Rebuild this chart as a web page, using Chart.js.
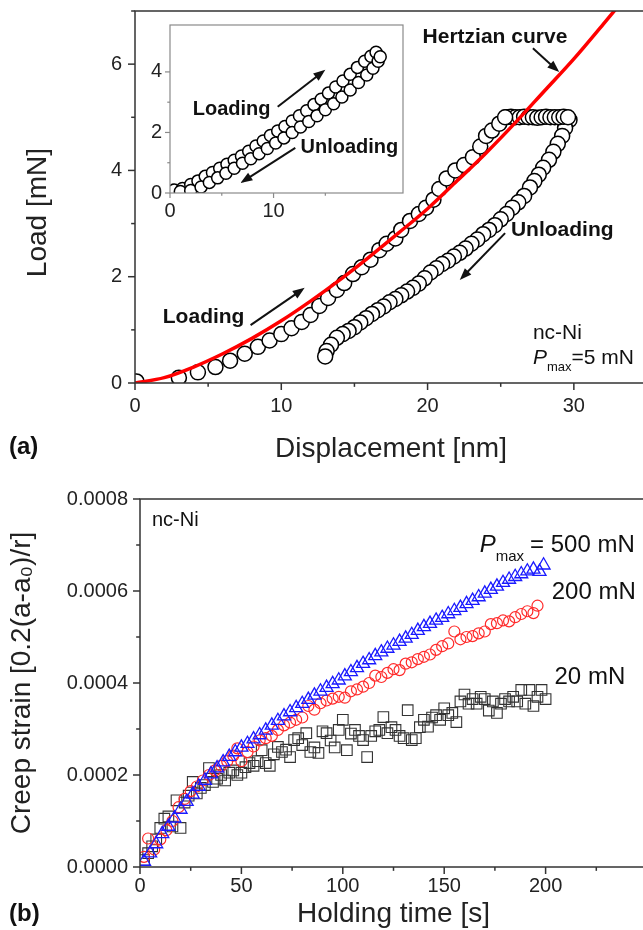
<!DOCTYPE html>
<html>
<head>
<meta charset="utf-8">
<script src="https://cdn.jsdelivr.net/npm/chart.js@4.4.1/dist/chart.umd.min.js"></script>
<style>
  html, body { margin: 0; padding: 0; background: #fff; overflow: hidden; }
  #page { position: relative; width: 643px; height: 930px; overflow: hidden; font-family: 'Liberation Sans', Arial, sans-serif; }
  canvas { position: absolute; }
  #cA { left: 0; top: 0; }
  #cIn { left: 140px; top: 15px; }
  #cB { left: 0; top: 470px; }
  .lab { position: absolute; font-weight: bold; font-size: 24px; line-height: 28px; color: #111; }
</style>
</head>
<body>
<div id="page">
  <canvas id="cA" width="652" height="470"></canvas>
  <canvas id="cIn" width="275" height="210"></canvas>
  <canvas id="cB" width="652" height="460"></canvas>
  <div class="lab" style="left:9px; top:432px;">(a)</div>
  <div class="lab" style="left:9px; top:899px;">(b)</div>
</div>
<script>
const FONT = "'Liberation Sans', Arial, sans-serif";

// ---- panel (a): load vs displacement, Pmax = 5 mN ----
const hertzDisp = [0, 2, 4, 6, 8, 10, 12, 14, 16, 18, 20, 22, 24, 26, 28, 30, 32, 33];
const hertzLoad = [0, 0.1, 0.3, 0.55, 0.84, 1.17, 1.54, 1.94, 2.37, 2.82, 3.28, 3.8, 4.33, 4.9, 5.5, 6.1, 6.75, 7.08];

const loadDisp = [0.1, 3.0, 4.3, 5.5, 6.5, 7.5, 8.4, 9.2, 10.0, 10.7, 11.4, 12.0, 12.6, 13.2, 13.8, 14.3, 14.9, 15.5,
  16.1, 16.7, 17.2, 17.8, 18.2, 18.8, 19.4, 19.9, 20.4, 20.8, 21.3, 21.9, 22.5, 23.1, 23.6, 24.0, 24.4, 24.9, 25.3];
const loadForce = [0.03, 0.1, 0.2, 0.3, 0.42, 0.55, 0.68, 0.8, 0.92, 1.03, 1.15, 1.28, 1.45, 1.6, 1.75, 1.88, 2.05, 2.18,
  2.32, 2.5, 2.62, 2.72, 2.88, 3.05, 3.18, 3.3, 3.45, 3.65, 3.85, 4.0, 4.1, 4.25, 4.45, 4.65, 4.75, 4.88, 5.0];

const holdDisp = [25.4, 25.7, 26.0, 26.3, 26.6, 26.9, 27.2, 27.5, 27.8, 28.1, 28.4, 28.7, 29.0, 29.3, 29.6];
const holdForce = [5.0, 5.01, 5.0, 5.0, 5.01, 5.0, 5.0, 4.99, 5.0, 5.01, 5.0, 5.0, 5.0, 5.01, 5.0];

const unloadDisp = [29.7, 29.4, 29.2, 28.9, 28.6, 28.3, 27.9, 27.6, 27.3, 27.0, 26.6, 26.2, 25.8, 25.4, 25.0, 24.6,
  24.2, 23.8, 23.4, 23.0, 22.6, 22.2, 21.8, 21.4, 21.0, 20.6, 20.2, 19.8, 19.4, 19.0, 18.6, 18.2, 17.8, 17.4,
  17.0, 16.6, 16.2, 15.8, 15.4, 15.0, 14.6, 14.2, 13.8, 13.4, 13.1, 13.0];
const unloadForce = [4.95, 4.8, 4.65, 4.5, 4.35, 4.2, 4.05, 3.92, 3.8, 3.68, 3.52, 3.4, 3.3, 3.18, 3.08, 2.97,
  2.88, 2.8, 2.7, 2.62, 2.53, 2.45, 2.38, 2.3, 2.24, 2.16, 2.08, 1.97, 1.87, 1.79, 1.72, 1.65, 1.58, 1.52,
  1.44, 1.37, 1.3, 1.22, 1.14, 1.05, 0.98, 0.92, 0.85, 0.72, 0.6, 0.5];

// inset
const insetLoadDisp = [0.4, 1.2, 2.0, 2.7, 3.4, 4.1, 4.8, 5.5, 6.2, 6.9, 7.6, 8.3, 9.0, 9.7, 10.4, 11.1, 11.8, 12.5,
  13.2, 13.9, 14.6, 15.3, 16.0, 16.7, 17.4, 18.1, 18.8, 19.4, 19.9];
const insetLoadForce = [0.1, 0.15, 0.28, 0.4, 0.55, 0.68, 0.82, 0.95, 1.08, 1.22, 1.38, 1.55, 1.72, 1.9, 2.05, 2.2, 2.38, 2.55,
  2.72, 2.92, 3.1, 3.3, 3.5, 3.7, 3.92, 4.15, 4.35, 4.52, 4.65];
const insetUnloadDisp = [1.0, 2.0, 3.0, 3.8, 4.6, 5.4, 6.2, 7.0, 7.8, 8.6, 9.4, 10.2, 11.0, 11.8, 12.6, 13.4, 14.2,
  15.0, 15.8, 16.6, 17.4, 18.2, 19.0, 19.6, 20.1, 20.3];
const insetUnloadForce = [0.05, 0.08, 0.2, 0.35, 0.5, 0.65, 0.82, 0.98, 1.13, 1.3, 1.47, 1.65, 1.82, 2.0, 2.18, 2.36, 2.55,
  2.75, 2.95, 3.17, 3.4, 3.65, 3.9, 4.12, 4.35, 4.5];

// ---- panel (b): creep strain vs holding time ----
const time500 = [2, 5, 8, 11, 14, 17, 20, 23, 26, 29, 32, 35, 38, 41, 44, 47, 50, 53, 56, 59, 62, 65, 68, 71, 74, 77,
  80, 83, 86, 89, 92, 95, 98, 101, 104, 107, 110, 113, 116, 119, 122, 125, 128, 131, 134, 137, 140, 143, 146, 149,
  152, 155, 158, 161, 164, 167, 170, 173, 176, 179, 182, 185, 188, 191, 194, 197, 199];
const creep500 = [0.000012, 0.00003, 0.00005, 0.000072, 0.000088, 0.000106, 0.000125, 0.000142, 0.000158, 0.000175,
  0.000188, 0.000202, 0.000215, 0.000228, 0.00024, 0.00025, 0.00026, 0.000268, 0.000278, 0.000287, 0.000297, 0.000308,
  0.000318, 0.000328, 0.000337, 0.000346, 0.000355, 0.000364, 0.000373, 0.000382, 0.00039, 0.000398, 0.000406,
  0.000415, 0.000424, 0.000433, 0.000442, 0.00045, 0.000459, 0.000467, 0.000475, 0.000482, 0.00049, 0.000497,
  0.000505, 0.000514, 0.000522, 0.000529, 0.000536, 0.000542, 0.00055, 0.000557, 0.000564, 0.000572, 0.000579,
  0.000587, 0.000595, 0.000603, 0.00061, 0.000618, 0.000625, 0.000631, 0.000637, 0.000643, 0.000647, 0.000642, 0.000656];

const time200 = [2, 4, 7, 10, 13, 16, 19, 22, 25, 28, 31, 34, 37, 40, 43, 46, 48, 50, 53, 56, 59, 62, 65, 68, 71, 74,
  77, 80, 83, 86, 89, 92, 95, 98, 101, 104, 107, 110, 113, 116, 119, 122, 125, 128, 131, 134, 137, 140, 143, 146,
  149, 152, 155, 158, 161, 164, 167, 170, 173, 176, 179, 182, 185, 188, 191, 194, 196];
const creep200 = [0.000022, 0.000062, 0.000038, 0.00006, 0.00008, 0.0001, 0.00013, 0.000148, 0.000165, 0.000175,
  0.000188, 0.0002, 0.00021, 0.00022, 0.00023, 0.000242, 0.000258, 0.00023, 0.00025, 0.000262, 0.000275, 0.00028,
  0.000285, 0.000298, 0.000308, 0.000314, 0.00032, 0.000325, 0.00035, 0.000342, 0.000356, 0.000362, 0.000366,
  0.00037, 0.000368, 0.000382, 0.000386, 0.000392, 0.0004, 0.000416, 0.000413, 0.000422, 0.00043, 0.000428,
  0.000442, 0.000445, 0.000452, 0.000457, 0.000462, 0.000472, 0.00048, 0.000486, 0.000512, 0.000495, 0.0005,
  0.000502, 0.000508, 0.000512, 0.000528, 0.00053, 0.000536, 0.000534, 0.000543, 0.00055, 0.000556, 0.000552, 0.000568];

const time20 = [2, 4, 6, 8, 10, 12, 14, 16, 18, 20, 22, 24, 26, 28, 30, 32, 34, 36, 38, 40, 42, 44, 46, 48, 50, 52,
  54, 56, 58, 60, 62, 64, 66, 68, 70, 72, 74, 76, 78, 80, 82, 84, 86, 88, 90, 92, 94, 96, 98, 100, 102, 104, 106,
  108, 110, 112, 114, 116, 118, 120, 122, 124, 126, 128, 130, 132, 134, 136, 138, 140, 142, 144, 146, 148, 150,
  152, 154, 156, 158, 160, 162, 164, 166, 168, 170, 172, 174, 176, 178, 180, 182, 184, 186, 188, 190, 192, 194,
  196, 198, 200];
const creep20 = [0.000015, 0.00003, 0.000045, 0.00006, 0.000085, 0.000105, 0.00011, 0.000088, 0.000145, 0.000085,
  0.00014, 0.000155, 0.000185, 0.00016, 0.000172, 0.000178, 0.000215, 0.000185, 0.000192, 0.0002, 0.000188, 0.000205,
  0.00021, 0.0002, 0.000205, 0.000217, 0.000226, 0.00022, 0.00023, 0.000254, 0.000226, 0.00022, 0.000245, 0.000261,
  0.00025, 0.000255, 0.000239, 0.000276, 0.00028, 0.000265, 0.000291, 0.00025, 0.00026, 0.000248, 0.000295, 0.000291,
  0.000275, 0.00026, 0.000298, 0.00032, 0.000254, 0.00029, 0.000298, 0.000285, 0.000276, 0.000239, 0.000285, 0.000295,
  0.000298, 0.000326, 0.000291, 0.000304, 0.000298, 0.000285, 0.00028, 0.000341, 0.000276, 0.00028, 0.000304, 0.00032,
  0.000305, 0.000325, 0.00033, 0.00032, 0.000345, 0.00033, 0.000335, 0.000315, 0.00036, 0.000375, 0.000355, 0.000365,
  0.000355, 0.00037, 0.000365, 0.00034, 0.00036, 0.000335, 0.000355, 0.000365, 0.00036, 0.00037, 0.00036, 0.000385,
  0.000355, 0.000385, 0.00035, 0.00037, 0.000385, 0.000365];

const zip = (xs, ys) => xs.map((x, i) => ({x, y: ys[i]}));
const near = (v, step) => Math.abs(v / step - Math.round(v / step)) < 1e-6;

// frame + outward tick marks (major/minor)
const frameTicks = {
  id: 'frameTicks',
  beforeDatasetsDraw(chart, args, o) {
    if (!o.fill) return;
    const a = chart.chartArea, ctx = chart.ctx;
    ctx.save();
    ctx.fillStyle = o.fill;
    ctx.fillRect(a.left, a.top, a.right - a.left, a.bottom - a.top);
    ctx.restore();
  },
  afterDatasetsDraw(chart, args, o) {
    const {ctx, chartArea: a} = chart;
    ctx.save();
    ctx.strokeStyle = o.color;
    ctx.lineWidth = o.width;
    ctx.strokeRect(a.left, a.top, a.right - a.left, a.bottom - a.top);
    ['x', 'y'].forEach(id => {
      const s = chart.scales[id];
      const step = s.options.ticks.stepSize;
      s.ticks.forEach(t => {
        if (!near(t.value, step)) return;
        const len = near(t.value, o.major[id]) ? o.len : o.len * 0.55;
        const p = s.getPixelForValue(t.value);
        ctx.beginPath();
        if (id === 'x') { ctx.moveTo(p, a.bottom); ctx.lineTo(p, a.bottom + len); }
        else { ctx.moveTo(a.left, p); ctx.lineTo(a.left - len, p); }
        ctx.stroke();
      });
    });
    ctx.restore();
  }
};

// text notes and arrows placed in data coordinates
const notes = {
  id: 'notes',
  afterDraw(chart, args, o) {
    const {ctx} = chart;
    const sx = chart.scales.x, sy = chart.scales.y;
    ctx.save();
    ctx.fillStyle = '#111';
    ctx.strokeStyle = '#111';
    ctx.textBaseline = 'middle';
    ctx.textAlign = 'left';
    (o.arrows || []).forEach(a => {
      const x1 = sx.getPixelForValue(a[0]), y1 = sy.getPixelForValue(a[1]);
      const x2 = sx.getPixelForValue(a[2]), y2 = sy.getPixelForValue(a[3]);
      const ang = Math.atan2(y2 - y1, x2 - x1), L = 12, W = 4.5;
      const c = Math.cos(ang), s = Math.sin(ang);
      ctx.lineWidth = 2;
      ctx.beginPath();
      ctx.moveTo(x1, y1);
      ctx.lineTo(x2 - c * L * 0.8, y2 - s * L * 0.8);
      ctx.stroke();
      ctx.beginPath();
      ctx.moveTo(x2, y2);
      ctx.lineTo(x2 - L * c + W * s, y2 - L * s - W * c);
      ctx.lineTo(x2 - L * c - W * s, y2 - L * s + W * c);
      ctx.closePath();
      ctx.fill();
    });
    (o.texts || []).forEach(t => {
      let x = sx.getPixelForValue(t.x);
      const y = sy.getPixelForValue(t.y);
      t.runs.forEach(r => {
        ctx.font = r.font + ' ' + FONT;
        x += r.dx || 0;
        ctx.fillText(r.text, x, y + (r.dy || 0));
        x += ctx.measureText(r.text).width;
      });
    });
    ctx.restore();
  }
};

function axisX(o) {
  return {
    type: 'linear', min: o.min, max: o.max,
    afterFit: s => { s.height = o.h; s.paddingLeft = 0; s.paddingRight = 0; },
    grid: {display: false, drawTicks: false}, border: {display: false},
    ticks: {stepSize: o.step, autoSkip: false, maxRotation: 0, padding: o.pad, color: '#222',
      font: {family: FONT, size: o.fs || 20},
      callback: v => (near(v, o.major) && v <= o.last) ? String(v) : ''},
    title: o.title ? {display: true, text: o.title, color: '#222',
      font: {family: FONT, size: 28, lineHeight: 1}, padding: {top: 0, bottom: o.tpad}} : {display: false}
  };
}
function axisY(o) {
  return {
    type: 'linear', min: o.min, max: o.max,
    afterFit: s => { s.width = o.w; s.paddingTop = 0; s.paddingBottom = 0; },
    grid: {display: false, drawTicks: false}, border: {display: false},
    ticks: {stepSize: o.step, autoSkip: false, padding: o.pad, color: '#222',
      font: {family: FONT, size: o.fs || 20},
      callback: v => near(v, o.major) && v <= o.last ? (o.fmt ? o.fmt(v) : String(v)) : ''},
    title: o.title ? {display: true, text: o.title, color: '#222',
      font: {family: FONT, size: 28, lineHeight: 1}, padding: {top: o.tpad, bottom: 0}} : {display: false}
  };
}

const circle = (data, r) => ({data, pointStyle: 'circle', pointRadius: r, pointBorderWidth: 1.5,
  pointBorderColor: '#000', pointBackgroundColor: '#fff', order: 1});

new Chart(document.getElementById('cA'), {
  type: 'scatter',
  data: {
    datasets: [
      {label: 'Hertzian curve', data: zip(hertzDisp, hertzLoad), showLine: true, borderColor: '#ff0000',
        borderWidth: 3.5, pointRadius: 0, cubicInterpolationMode: 'monotone', order: 0},
      Object.assign(circle(zip(loadDisp, loadForce), 7.5), {label: 'Loading'}),
      Object.assign(circle(zip(holdDisp, holdForce), 7.5), {label: 'Hold'}),
      Object.assign(circle(zip(unloadDisp, unloadForce), 7.5), {label: 'Unloading'})
    ]
  },
  options: {
    responsive: false, animation: false, devicePixelRatio: 1,
    layout: {autoPadding: false, padding: {top: 11, right: 5, left: 0, bottom: 0}},
    plugins: {
      legend: {display: false}, tooltip: {enabled: false},
      frameTicks: {color: '#333', width: 1.5, len: 7, major: {x: 10, y: 2}},
      notes: {
        texts: [
          {x: 19.66, y: 6.5, runs: [{text: 'Hertzian curve', font: 'bold 21px'}]},
          {x: 1.9, y: 1.24, runs: [{text: 'Loading', font: 'bold 21px'}]},
          {x: 25.7, y: 2.88, runs: [{text: 'Unloading', font: 'bold 21px'}]},
          {x: 27.2, y: 0.94, runs: [{text: 'nc-Ni', font: '21px'}]},
          {x: 27.2, y: 0.47, runs: [{text: 'P', font: 'italic 21px'}, {text: 'max', font: '13px', dy: 9},
            {text: '=5 mN', font: '21px'}]}
        ],
        arrows: [[27.2, 6.3, 29.0, 5.85], [7.9, 1.09, 11.6, 1.79], [25.3, 2.82, 22.2, 1.94]]
      }
    },
    scales: {
      x: axisX({min: 0, max: 35, step: 5, major: 10, last: 30, h: 87, pad: 11, title: 'Displacement [nm]', tpad: 7}),
      y: axisY({min: 0, max: 7, step: 1, major: 2, last: 6, w: 135, pad: 13, title: 'Load [mN]    ', tpad: 24})
    }
  },
  plugins: [frameTicks, notes]
});

new Chart(document.getElementById('cIn'), {
  type: 'scatter',
  data: {
    datasets: [
      Object.assign(circle(zip(insetUnloadDisp, insetUnloadForce), 6), {label: 'Unloading'}),
      Object.assign(circle(zip(insetLoadDisp, insetLoadForce), 6), {label: 'Loading'})
    ]
  },
  options: {
    responsive: false, animation: false, devicePixelRatio: 1,
    layout: {autoPadding: false, padding: {top: 10, right: 12, left: 0, bottom: 0}},
    plugins: {
      legend: {display: false}, tooltip: {enabled: false},
      frameTicks: {color: '#8a8a8a', width: 1.2, len: 5, major: {x: 10, y: 2}, fill: '#fff'},
      notes: {
        texts: [
          {x: 2.2, y: 2.75, runs: [{text: 'Loading', font: 'bold 20px'}]},
          {x: 12.6, y: 1.52, runs: [{text: 'Unloading', font: 'bold 20px'}]}
        ],
        arrows: [[10.4, 2.85, 15.0, 4.07], [12.1, 1.49, 6.8, 0.33]]
      }
    },
    scales: {
      x: axisX({min: 0, max: 22.5, step: 5, major: 10, last: 20, h: 32, pad: 6}),
      y: axisY({min: 0, max: 5.55, step: 1, major: 2, last: 4, w: 30, pad: 8})
    }
  },
  plugins: [frameTicks, notes]
});

new Chart(document.getElementById('cB'), {
  type: 'scatter',
  data: {
    datasets: [
      {label: 'Pmax = 500 mN', data: zip(time500, creep500), pointStyle: 'triangle', pointRadius: 7.5,
        pointBorderWidth: 1.3, pointBorderColor: '#1a1aff', pointBackgroundColor: 'rgba(0,0,0,0)', order: 0},
      {label: '200 mN', data: zip(time200, creep200), pointStyle: 'circle', pointRadius: 5.5,
        pointBorderWidth: 1.2, pointBorderColor: '#ff2a2a', pointBackgroundColor: 'rgba(0,0,0,0)', order: 1},
      {label: '20 mN', data: zip(time20, creep20), pointStyle: 'rect', pointRadius: 7.5,
        pointBorderWidth: 1.1, pointBorderColor: '#333', pointBackgroundColor: 'rgba(0,0,0,0)', order: 2}
    ]
  },
  options: {
    responsive: false, animation: false, devicePixelRatio: 1,
    layout: {autoPadding: false, padding: {top: 29, right: 5, left: 0, bottom: 0}},
    plugins: {
      legend: {display: false}, tooltip: {enabled: false},
      frameTicks: {color: '#333', width: 1.5, len: 7, major: {x: 50, y: 0.0002}},
      notes: {
        texts: [
          {x: 5.9, y: 0.000754, runs: [{text: 'nc-Ni', font: '20px'}]},
          {x: 167.5, y: 0.0007, runs: [{text: 'P', font: 'italic 24px'}, {text: 'max', font: '15px', dy: 12},
            {text: '= 500 mN', font: '24px', dx: 6}]},
          {x: 203, y: 0.000596, runs: [{text: '200 mN', font: '24px'}]},
          {x: 204.4, y: 0.000413, runs: [{text: '20 mN', font: '24px'}]}
        ]
      }
    },
    scales: {
      x: axisX({min: 0, max: 250, step: 25, major: 50, last: 200, h: 63, pad: 7, title: 'Holding time [s]', tpad: 2}),
      y: axisY({min: 0, max: 0.0008, step: 0.0001, major: 0.0002, last: 0.0008, w: 140, pad: 12,
        fmt: v => v.toFixed(4), title: 'Creep strain [0.2(a-a\u2080)/r]', tpad: 8})
    }
  },
  plugins: [frameTicks, notes]
});
</script>
</body>
</html>
